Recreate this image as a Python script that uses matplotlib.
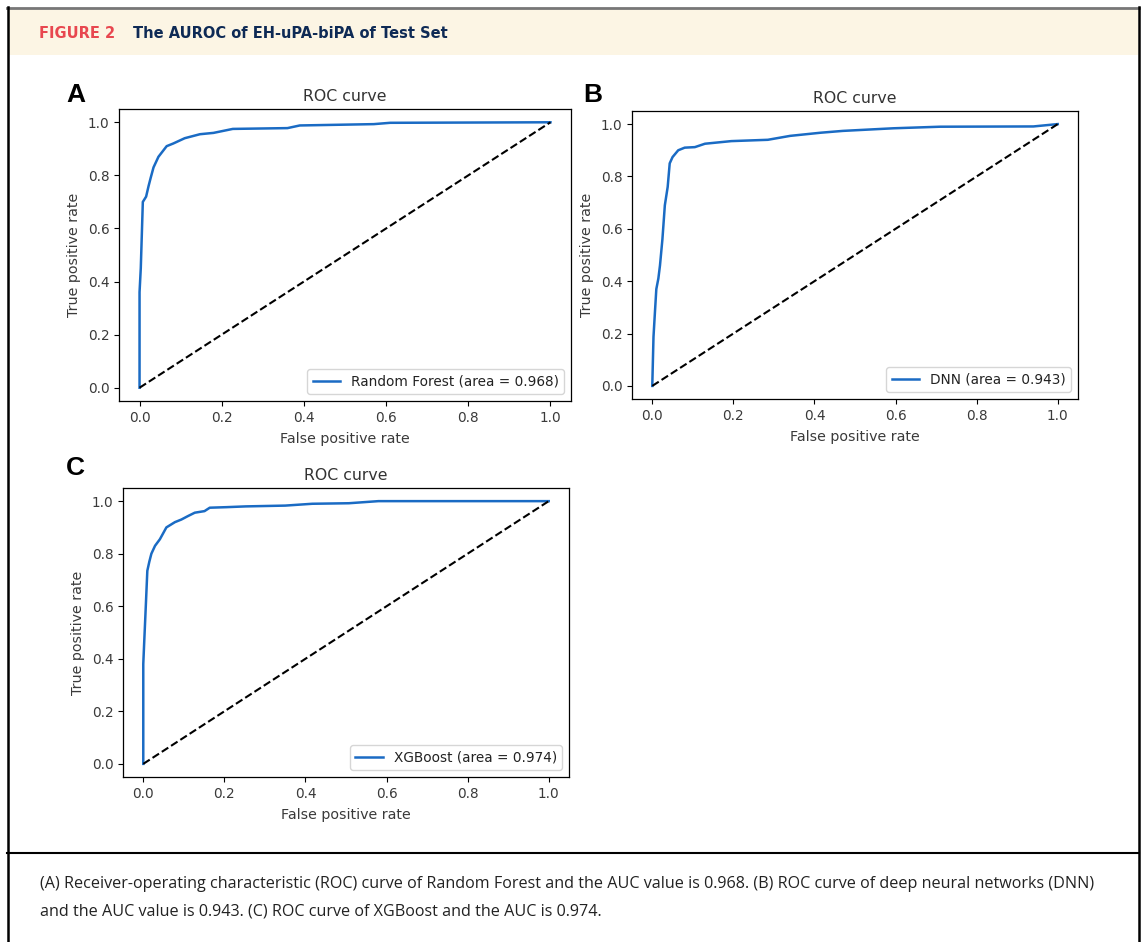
import numpy as np
import matplotlib.pyplot as plt
from matplotlib.patches import Rectangle
from matplotlib.lines import Line2D

W, H = 1142, 942

# ROC data
rf_fpr = [0, 0, 0.003, 0.006, 0.008, 0.016, 0.022, 0.027, 0.034, 0.046, 0.066, 0.082, 0.11, 0.147,
          0.18, 0.227, 0.36, 0.39, 0.57, 0.61, 1.0]
rf_tpr = [0, 0.36, 0.45, 0.6, 0.70, 0.72, 0.76, 0.79, 0.83, 0.87, 0.91, 0.92, 0.94, 0.955,
          0.96, 0.975, 0.978, 0.988, 0.993, 0.998, 1.0]

dnn_fpr = [0, 0.003, 0.0065, 0.01, 0.015, 0.019, 0.025, 0.031, 0.038, 0.043, 0.05, 0.064, 0.08,
           0.105, 0.13, 0.195, 0.285, 0.34, 0.415, 0.47, 0.595, 0.71, 0.94, 1.0]
dnn_tpr = [0, 0.187, 0.28, 0.37, 0.41, 0.46, 0.56, 0.69, 0.76, 0.85, 0.874, 0.90, 0.91,
           0.912, 0.925, 0.935, 0.94, 0.955, 0.967, 0.974, 0.984, 0.99, 0.991, 1.0]

xgb_fpr = [0, 0, 0.0025, 0.0065, 0.01, 0.015, 0.02, 0.029, 0.041, 0.057, 0.078, 0.094, 0.11,
           0.127, 0.151, 0.164, 0.204, 0.253, 0.35, 0.417, 0.507, 0.58, 1.0]
xgb_tpr = [0, 0.38, 0.47, 0.61, 0.735, 0.77, 0.80, 0.83, 0.855, 0.90, 0.92, 0.93, 0.943,
           0.956, 0.962, 0.975, 0.977, 0.98, 0.983, 0.99, 0.992, 1.0, 1.0]

labels = ['Random Forest (area = 0.968)', 'DNN (area = 0.943)', 'XGBoost (area = 0.974)']
panel_letters = ['A', 'B', 'C']

caption1 = ("(A) Receiver-operating characteristic (ROC) curve of Random Forest and the AUC value is 0.968. "
            "(B) ROC curve of deep neural networks (DNN)")
caption2 = "and the AUC value is 0.943. (C) ROC curve of XGBoost and the AUC is 0.974."


def fx(px):
    return px / W


def fy(py):
    return 1 - py / H


fig = plt.figure(figsize=(W / 100, H / 100), dpi=100)

# frame and header band
fig.add_artist(Rectangle((fx(8), fy(55)), fx(1130), 46 / H, transform=fig.transFigure,
                         facecolor='#fcf5e4', edgecolor='none'))
fig.add_artist(Line2D([fx(7), fx(1139)], [fy(7.5), fy(7.5)], transform=fig.transFigure, color='#777777', lw=2))
fig.add_artist(Line2D([fx(7.5), fx(7.5)], [fy(7), 0], transform=fig.transFigure, color='black', lw=1.8))
fig.add_artist(Line2D([fx(1138.5), fx(1138.5)], [fy(7), 0], transform=fig.transFigure, color='black', lw=1.8))
fig.add_artist(Line2D([fx(7), fx(1139)], [fy(853), fy(853)], transform=fig.transFigure, color='black', lw=1.5))

fig.text(fx(39), fy(33), 'FIGURE 2', color='#e8474f', fontsize=10.5, fontweight='bold',
         va='center', ha='left', family='DejaVu Sans')
fig.text(fx(133), fy(33), 'The AUROC of EH-uPA-biPA of Test Set', color='#0e2a55', fontsize=10.5,
         fontweight='bold', va='center', ha='left', family='DejaVu Sans')

fig.text(fx(40), fy(884), caption1, fontsize=11.6, color='#222222', va='center', ha='left', family='Open Sans')
fig.text(fx(40), fy(911), caption2, fontsize=11.6, color='#222222', va='center', ha='left', family='Open Sans')

boxes = [(119, 109, 571, 401), (632, 111, 1078, 399), (123, 488, 569, 777)]
letter_pos = [(66, 95), (583, 95), (66, 468)]
data = [(rf_fpr, rf_tpr), (dnn_fpr, dnn_tpr), (xgb_fpr, xgb_tpr)]

for i in range(3):
    l, t, r, b = boxes[i]
    ax = fig.add_axes([fx(l), fy(b), (r - l) / W, (b - t) / H])
    ax.plot(data[i][0], data[i][1], color='#1a6bc4', lw=1.8, label=labels[i])
    ax.plot([0, 1], [0, 1], 'k--', lw=1.5)
    ax.set_xlim(-0.05, 1.05)
    ax.set_ylim(-0.05, 1.05)
    ax.set_xticks(np.arange(0, 1.01, 0.2))
    ax.set_yticks(np.arange(0, 1.01, 0.2))
    ax.tick_params(labelsize=9.8, labelcolor='#3a3a3a', length=3.5, width=0.8)
    ax.set_xlabel('False positive rate', fontsize=10.3, color='#3a3a3a', labelpad=5)
    ax.set_ylabel('True positive rate', fontsize=10.3, color='#3a3a3a', labelpad=5)
    ax.set_title('ROC curve', fontsize=11.3, color='#333333', pad=6)
    for s in ax.spines.values():
        s.set_linewidth(0.9)
    leg = ax.legend(loc='lower right', fontsize=9.8, frameon=True)
    leg.get_frame().set_edgecolor('#cccccc')
    for txt in leg.get_texts():
        txt.set_color('#222222')
    lx, ly = letter_pos[i]
    fig.text(fx(lx), fy(ly), panel_letters[i], fontsize=19, fontweight='bold', va='center', ha='left',
             family='Liberation Sans')

plt.savefig('out.png', dpi=100)
plt.close()
